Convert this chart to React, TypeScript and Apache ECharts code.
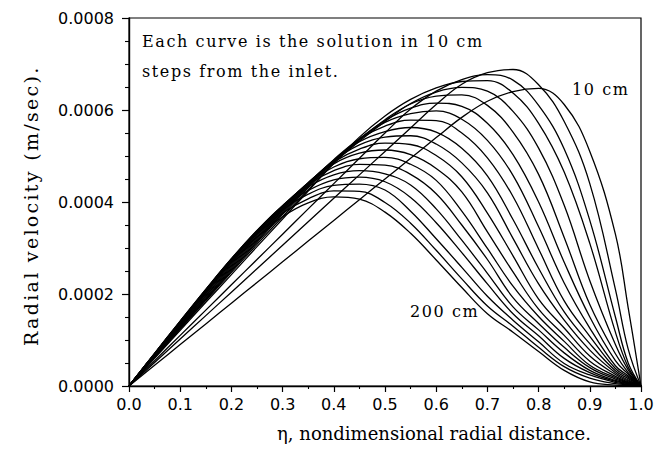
import React, { useEffect, useRef } from "react";
import * as echarts from "echarts";

// Nondimensional radial positions (eta) at which each curve was read
const ETA = [0, 0.05, 0.1, 0.15, 0.2, 0.25, 0.3, 0.35, 0.4, 0.45, 0.5, 0.55, 0.6, 0.65, 0.7, 0.75, 0.8, 0.85, 0.9, 0.95, 0.975, 1.0];

// Radial velocity values in units of 1e-4 m/sec, one array per axial station
const UNIT = 1e-4;
const V_10 = [0, 0.45, 0.9, 1.35, 1.8, 2.25, 2.7, 3.15, 3.6, 4.05, 4.5, 4.95, 5.4, 5.84, 6.19, 6.4, 6.47, 6.12, 5.1, 3.3, 1.7, 0];
const V_20 = [0, 0.51, 1.02, 1.53, 2.04, 2.55, 3.06, 3.57, 4.08, 4.59, 5.1, 5.61, 6.12, 6.56, 6.81, 6.88, 6.55, 5.75, 4.4, 2.1, 0.8, 0];
const V_30 = [0, 0.55, 1.1, 1.65, 2.2, 2.75, 3.3, 3.85, 4.4, 4.95, 5.5, 6.02, 6.41, 6.66, 6.77, 6.65, 6.1, 5.15, 3.6, 1.5, 0.5, 0];
const V_40 = [0, 0.6, 1.21, 1.82, 2.42, 3.03, 3.63, 4.24, 4.84, 5.41, 5.87, 6.23, 6.48, 6.62, 6.64, 6.37, 5.71, 4.65, 3.1, 1.17, 0.41, 0];
const V_50 = [0, 0.62, 1.24, 1.86, 2.47, 3.08, 3.68, 4.26, 4.84, 5.32, 5.75, 6.14, 6.39, 6.49, 6.41, 5.97, 5.17, 3.93, 2.29, 0.9, 0.35, 0];
const V_60 = [0, 0.63, 1.25, 1.88, 2.5, 3.12, 3.73, 4.31, 4.87, 5.35, 5.79, 6.13, 6.3, 6.33, 6.1, 5.52, 4.6, 3.23, 1.77, 0.7, 0.29, 0];
const V_70 = [0, 0.63, 1.27, 1.9, 2.53, 3.15, 3.76, 4.34, 4.89, 5.37, 5.77, 6.04, 6.15, 6.08, 5.71, 5.03, 4.0, 2.69, 1.5, 0.55, 0.26, 0];
const V_80 = [0, 0.64, 1.28, 1.92, 2.56, 3.18, 3.79, 4.36, 4.9, 5.37, 5.73, 5.92, 5.98, 5.8, 5.34, 4.58, 3.46, 2.24, 1.26, 0.44, 0.22, 0];
const V_90 = [0, 0.65, 1.3, 1.95, 2.59, 3.21, 3.82, 4.38, 4.92, 5.37, 5.65, 5.78, 5.77, 5.5, 4.96, 4.12, 2.98, 1.85, 1.08, 0.38, 0.19, 0];
const V_100 = [0, 0.66, 1.31, 1.97, 2.62, 3.24, 3.84, 4.4, 4.91, 5.31, 5.53, 5.62, 5.52, 5.17, 4.57, 3.62, 2.56, 1.61, 0.92, 0.33, 0.16, 0];
const V_110 = [0, 0.67, 1.33, 2.0, 2.65, 3.27, 3.86, 4.41, 4.9, 5.24, 5.41, 5.44, 5.26, 4.85, 4.2, 3.21, 2.22, 1.43, 0.78, 0.29, 0.13, 0];
const V_120 = [0, 0.68, 1.35, 2.02, 2.68, 3.3, 3.88, 4.42, 4.87, 5.15, 5.28, 5.25, 5.01, 4.55, 3.76, 2.83, 1.89, 1.26, 0.65, 0.25, 0.11, 0];
const V_130 = [0, 0.68, 1.36, 2.04, 2.71, 3.33, 3.9, 4.42, 4.83, 5.06, 5.13, 5.03, 4.73, 4.22, 3.35, 2.48, 1.67, 1.1, 0.54, 0.21, 0.09, 0];
const V_140 = [0, 0.69, 1.38, 2.06, 2.73, 3.35, 3.91, 4.4, 4.76, 4.94, 4.97, 4.82, 4.47, 3.8, 2.99, 2.17, 1.51, 0.97, 0.45, 0.18, 0.08, 0];
const V_150 = [0, 0.7, 1.39, 2.08, 2.75, 3.37, 3.92, 4.38, 4.68, 4.82, 4.8, 4.6, 4.18, 3.5, 2.75, 1.92, 1.36, 0.84, 0.4, 0.15, 0.07, 0];
const V_160 = [0, 0.7, 1.4, 2.09, 2.76, 3.38, 3.92, 4.33, 4.59, 4.68, 4.61, 4.37, 3.85, 3.17, 2.45, 1.72, 1.22, 0.72, 0.34, 0.12, 0.06, 0];
const V_170 = [0, 0.71, 1.41, 2.1, 2.77, 3.37, 3.89, 4.25, 4.48, 4.54, 4.44, 4.1, 3.55, 2.9, 2.22, 1.57, 1.09, 0.6, 0.29, 0.1, 0.05, 0];
const V_180 = [0, 0.71, 1.41, 2.1, 2.76, 3.34, 3.83, 4.17, 4.36, 4.39, 4.26, 3.8, 3.2, 2.58, 1.95, 1.43, 0.96, 0.49, 0.24, 0.08, 0.04, 0];
const V_190 = [0, 0.7, 1.4, 2.08, 2.73, 3.3, 3.76, 4.07, 4.24, 4.23, 3.99, 3.54, 2.95, 2.33, 1.74, 1.3, 0.84, 0.42, 0.17, 0.05, 0.03, 0];
const V_200 = [0, 0.7, 1.39, 2.06, 2.69, 3.24, 3.68, 3.98, 4.11, 4.06, 3.78, 3.32, 2.74, 2.14, 1.57, 1.17, 0.75, 0.34, 0.09, 0.02, 0.01, 0];

const CURVE_NAMES = ["10 cm", "20 cm", "30 cm", "40 cm", "50 cm", "60 cm", "70 cm", "80 cm", "90 cm", "100 cm",
  "110 cm", "120 cm", "130 cm", "140 cm", "150 cm", "160 cm", "170 cm", "180 cm", "190 cm", "200 cm"];
const CURVES = [V_10, V_20, V_30, V_40, V_50, V_60, V_70, V_80, V_90, V_100,
  V_110, V_120, V_130, V_140, V_150, V_160, V_170, V_180, V_190, V_200];

// Axis settings / texts
const X_MIN = 0, X_MAX = 1, X_STEP = 0.1;
const Y_MIN = 0, Y_MAX = 0.0008, Y_STEP = 0.0002;
const X_TITLE = "η, nondimensional radial distance.";
const Y_TITLE = "Radial velocity (m/sec).";
const NOTE_1 = "Each curve is the solution in 10 cm";
const NOTE_2 = "steps from the inlet.";
const FIRST_LABEL = "10 cm";
const LAST_LABEL = "200 cm";

const NOTE_FONT = "DejaVu Serif, Times";
const YT_FONT = "DejaVu Serif, Georgia";
const XT_FONT = "DejaVu Serif";
const TICK_FONT = "DejaVu Sans";

function textEl(x: number, y: number, text: string, fontSize: number, fontFamily: string, extra: any = {}) {
  return {
    type: "text",
    x,
    y,
    z: 100,
    silent: true,
    ...extra,
    style: {
      text,
      fontSize,
      fontFamily,
      fill: "#000",
      align: extra.align || "left",
      textAlign: extra.align || "left",
      verticalAlign: "middle",
      textVerticalAlign: "middle",
    },
  };
}

export default function App() {
  const ref = useRef<HTMLDivElement>(null);

  useEffect(() => {
    if (!ref.current) return;
    const chart = echarts.init(ref.current, null, { renderer: "svg" });

    const series = CURVES.map((vals, k) => ({
      name: CURVE_NAMES[k],
      type: "line",
      data: ETA.map((x, i) => [x, vals[i] * UNIT]),
      showSymbol: false,
      symbol: "none",
      smooth: 0.4,
      lineStyle: { color: "#000", width: 1.3 },
      silent: true,
      z: 2,
    }));

    const option: any = {
      animation: false,
      backgroundColor: "#fff",
      grid: {
        left: 129,
        top: 18,
        width: 512,
        height: 368,
        show: true,
        borderColor: "#000",
        borderWidth: 1.2,
        backgroundColor: "transparent",
      },
      xAxis: {
        type: "value",
        min: X_MIN,
        max: X_MAX,
        interval: X_STEP,
        axisLine: { show: true, onZero: false, lineStyle: { color: "#000", width: 1.4 } },
        axisTick: { show: true, inside: false, length: 6, lineStyle: { color: "#000", width: 1.2 } },
        minorTick: { show: true, splitNumber: 2, length: 3, lineStyle: { color: "#000", width: 1.1 } },
        splitLine: { show: false },
        minorSplitLine: { show: false },
        axisLabel: {
          color: "#000",
          fontFamily: TICK_FONT,
          fontSize: 16,
          margin: 10,
          formatter: (v: number) => v.toFixed(1),
        },
      },
      yAxis: {
        type: "value",
        min: Y_MIN,
        max: Y_MAX,
        interval: Y_STEP,
        axisLine: { show: true, onZero: false, lineStyle: { color: "#000", width: 1.4 } },
        axisTick: { show: true, inside: false, length: 7, lineStyle: { color: "#000", width: 1.2 } },
        minorTick: { show: true, splitNumber: 4, length: 4, lineStyle: { color: "#000", width: 1.1 } },
        splitLine: { show: false },
        minorSplitLine: { show: false },
        axisLabel: {
          color: "#000",
          fontFamily: TICK_FONT,
          fontSize: 16,
          margin: 15,
          formatter: (v: number) => v.toFixed(4),
        },
      },
      series,
      graphic: [
        textEl(142, 41.5, NOTE_1, 16, NOTE_FONT),
        textEl(142, 71.5, NOTE_2, 16, NOTE_FONT),
        textEl(572, 89.5, FIRST_LABEL, 16, NOTE_FONT),
        textEl(410, 311.5, LAST_LABEL, 16, NOTE_FONT),
        textEl(434, 433, X_TITLE, 18, XT_FONT, { align: "center" }),
        textEl(31, 346, Y_TITLE, 19, YT_FONT, { rotation: Math.PI / 2 }),
      ],
    };

    chart.setOption(option);
    return () => chart.dispose();
  }, []);

  return (
    <>
      <style>{`
        #rc-chart text[style*="Times"] { letter-spacing: 1.6px; }
        #rc-chart text[style*="Georgia"] { letter-spacing: 2.3px; }
      `}</style>
      <div
        id="rc-chart"
        ref={ref}
        style={{ position: "absolute", left: 0, top: 0, width: 658, height: 453, background: "#fff" }}
      />
    </>
  );
}
